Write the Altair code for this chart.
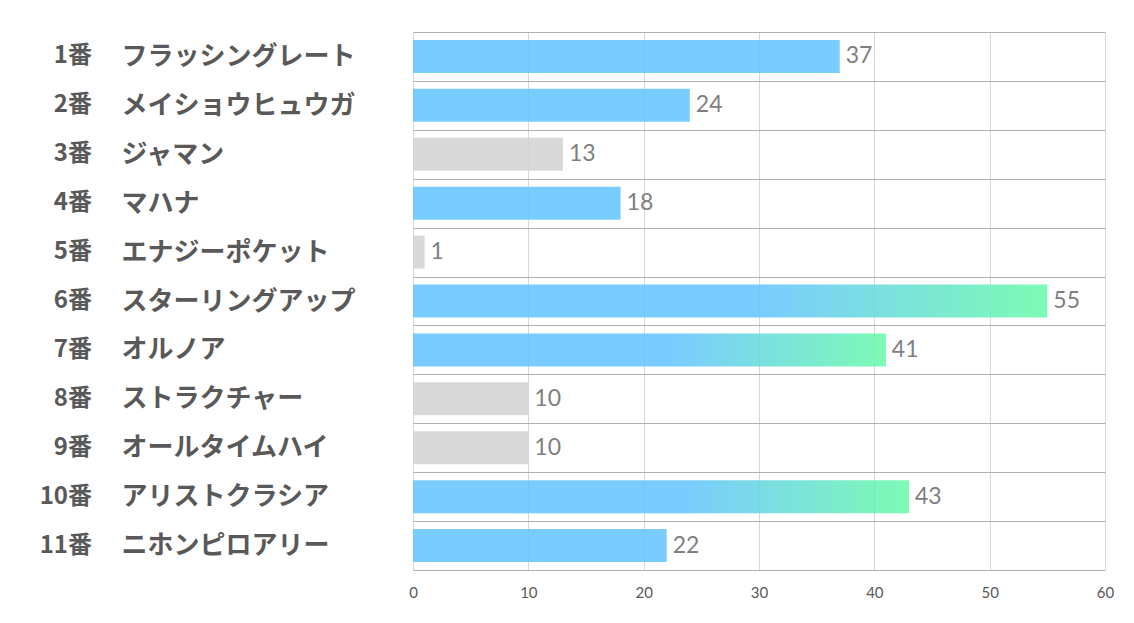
import altair as alt
import pandas as pd

nums = ["1番", "2番", "3番", "4番", "5番", "6番", "7番", "8番", "9番", "10番", "11番"]
names = ["フラッシングレート", "メイショウヒュウガ", "ジャマン", "マハナ", "エナジーポケット",
         "スターリングアップ", "オルノア", "ストラクチャー", "オールタイムハイ",
         "アリストクラシア", "ニホンピロアリー"]
votes = [37, 24, 13, 18, 1, 55, 41, 10, 10, 43, 22]
tiers = ["blue", "blue", "gray", "blue", "gray", "grad", "grad", "gray", "gray", "grad", "blue"]

df = pd.DataFrame({"num": nums, "name": names, "votes": votes, "tier": tiers})

W, H = 692, 538
BAR = 33

y_enc = alt.Y(
    "name:N",
    sort=names,
    scale=alt.Scale(paddingInner=0, paddingOuter=0),
    axis=alt.Axis(
        title=None,
        tickBand="extent",
        grid=True,
        gridColor="#B0B0B0",
        gridWidth=1,
        domain=False,
        ticks=False,
        tickSize=0,
        labelAlign="left",
        labelBaseline="middle",
        labelPadding=292,
        labelFont="Noto Sans CJK JP",
        labelFontWeight="bold",
        labelFontSize=26,
        labelColor="#595959",
        labelLimit=400,
    ),
)

x_enc = alt.X(
    "votes:Q",
    scale=alt.Scale(domain=[0, 60], nice=False),
    axis=alt.Axis(
        title=None,
        values=[0, 10, 20, 30, 40, 50, 60],
        grid=True,
        gridColor="#D9D9D9",
        domain=False,
        ticks=False,
        labelFlush=False,
        labelFont="Lato",
        labelFontSize=15,
        labelColor="#595959",
        labelPadding=15,
    ),
)

base = alt.Chart(df).encode(y=y_enc, x=x_enc)

blue = base.transform_filter(alt.datum.tier == "blue").mark_bar(
    size=BAR, color="#62C3FE", opacity=0.85
)
gray = base.transform_filter(alt.datum.tier == "gray").mark_bar(
    size=BAR, color="#D2D2D2", opacity=0.85
)
grad = base.transform_filter(alt.datum.tier == "grad").mark_bar(
    size=BAR,
    opacity=0.85,
    color=alt.LinearGradient(
        gradient="linear",
        x1=0, x2=1, y1=0, y2=0,
        stops=[
            alt.GradientStop(offset=0, color="#62C3FE"),
            alt.GradientStop(offset=0.55, color="#62C3FE"),
            alt.GradientStop(offset=1, color="#66FAA7"),
        ],
    ),
)

values = base.mark_text(
    align="left", baseline="middle", dx=6, font="Lato", fontSize=23, color="#7F7F7F"
).encode(text="votes:Q")

numbers = alt.Chart(df).mark_text(
    align="right", baseline="middle", font="Noto Sans CJK JP", fontWeight="bold",
    fontSize=24, color="#595959"
).encode(
    y=alt.Y("name:N", sort=names),
    x=alt.value(-321),
    text="num:N",
)

chart = alt.layer(blue, gray, grad, values, numbers).properties(
    width=W,
    height=H,
    autosize=alt.AutoSizeParams(type="none"),
    padding={"left": 405, "top": 24, "right": 21, "bottom": 45},
).configure_view(stroke=None)

chart.save("out.html", embed_options={"renderer": "svg", "actions": False})
